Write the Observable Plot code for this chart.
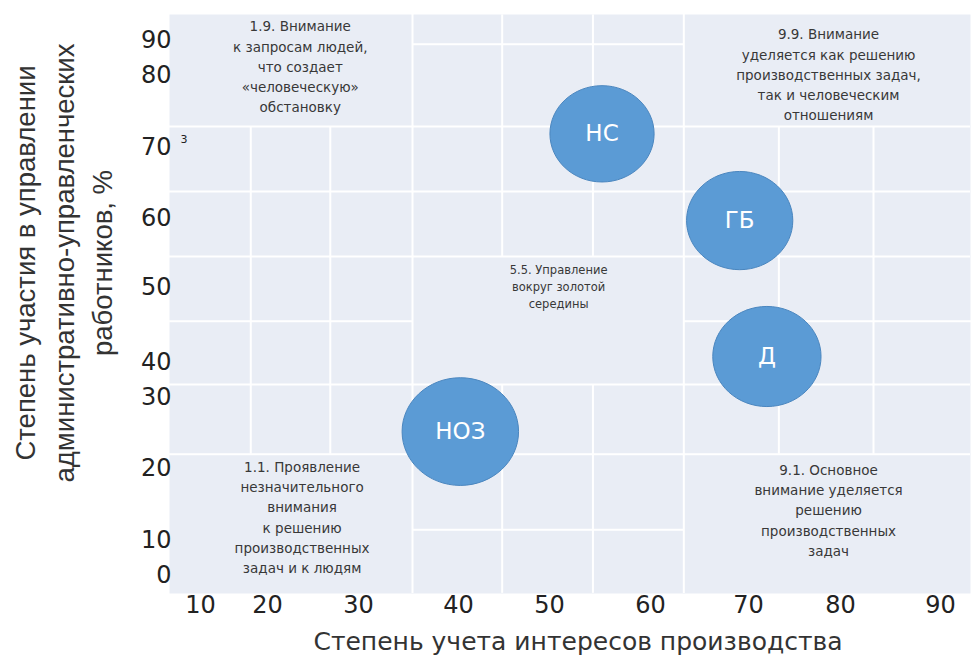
<!DOCTYPE html>
<html>
<head>
<meta charset="utf-8">
<script src="https://cdn.jsdelivr.net/npm/d3@7"></script>
<script src="https://cdn.jsdelivr.net/npm/@observablehq/plot@0.6"></script>
<style>
  body { margin: 0; background: #fff; }
  #chart svg { display: block; }
</style>
</head>
<body>
<div id="chart"></div>
<script>
// ---- Data ----
const xTicks = [10, 20, 30, 40, 50, 60, 70, 80, 90];
const yTicks = [0, 10, 20, 30, 40, 50, 60, 70, 80, 90];

const styleNames = ["НС", "ГБ", "Д", "НОЗ"];
const interestProduction = [55.2, 69.1, 72.0, 40.2];   // x
const participation = [71.9, 59.7, 40.8, 25.2];        // y
const bubbleWeight = [1.0, 1.04, 1.08, 1.25];

const zoneTexts = [
  "1.9. Внимание\nк запросам людей,\nчто создает\n«человеческую»\nобстановку",
  "9.9. Внимание\nуделяется как решению\nпроизводственных задач,\nтак и человеческим\nотношениям",
  "1.1. Проявление\nнезначительного\nвнимания\nк решению\nпроизводственных\nзадач и к людям",
  "9.1. Основное\nвнимание уделяется\nрешению\nпроизводственных\nзадач",
  "5.5. Управление\nвокруг золотой\nсередины"
];
const zoneX = [23.6, 78.7, 23.8, 78.7, 50.9];
const zoneY = [82.9, 80.6, 13.4, 14.4, 50.3];

// managerial-grid background lines (data units)
const blockX = [35.4, 63.4];                   // full-height
const outerSubX = [17.5, 26.9, 73.3, 83.3];    // outer columns, middle rows
const outerSubYSpan = [22.0, 72.9];
const middleSubX = [44.8, 54.3];               // middle column, top & bottom parts
const middleSubYSpans = [[54.5, 97.3], [-5.1, 33.7]];
const fullY = [72.9, 63.8, 54.5, 33.7, 22.0];  // full-width
const outerY = [45.5];                         // outer columns only
const outerXSpans = [[5.4, 35.4], [63.4, 93.2]];
const middleY = [88.9, 11.5];                  // middle column only
const middleXSpan = [35.4, 63.4];

const footnote = [{tick: 70, text: "3"}];

const xTitle = "Степень учета интересов производства";
const yTitle = "Степень участия в управлении\nадминистративно-управленческих\nработников, %";

// ---- Table ----
const bubbles = styleNames.map((name, i) => ({
  name, x: interestProduction[i], y: participation[i], w: bubbleWeight[i]
}));
const zones = zoneTexts.map((t, i) => ({text: t, x: zoneX[i], y: zoneY[i], small: i === 4}));

const vSegs = [
  ...outerSubX.map(x => ({x, y1: outerSubYSpan[0], y2: outerSubYSpan[1]})),
  ...middleSubX.flatMap(x => middleSubYSpans.map(([y1, y2]) => ({x, y1, y2})))
];
const hSegs = [
  ...outerY.flatMap(y => outerXSpans.map(([x1, x2]) => ({y, x1, x2}))),
  ...middleY.map(y => ({y, x1: middleXSpan[0], x2: middleXSpan[1]}))
];

// The reference axes are unevenly spaced: piecewise-linear warps of the tick values
const W = 973, H = 655;
const mL = 169, mR = 3, mT = 14, mB = 62;
const warpX = d3.scaleLinear().domain(xTicks).range([200, 267, 358, 458, 549, 650, 748, 840, 940]);
const warpY = d3.scaleLinear().domain(yTicks).range([575, 540, 468, 397, 362, 287, 218, 147, 75, 40]);

// ellipse-shaped symbol
const ellipse = {
  draw(ctx, size) {
    const r = Math.sqrt(size / Math.PI);
    const a = r * 1.04, b = r / 1.04, k = 0.5523;
    ctx.moveTo(a, 0);
    ctx.bezierCurveTo(a, k * b, k * a, b, 0, b);
    ctx.bezierCurveTo(-k * a, b, -a, k * b, -a, 0);
    ctx.bezierCurveTo(-a, -k * b, -k * a, -b, 0, -b);
    ctx.bezierCurveTo(k * a, -b, a, -k * b, a, 0);
    ctx.closePath();
  }
};

const gridColor = "#ffffff";

const chart = Plot.plot({
  width: W,
  height: H,
  marginLeft: mL,
  marginRight: mR,
  marginTop: mT,
  marginBottom: mB,
  style: {fontFamily: "DejaVu Sans", background: "#fff", overflow: "visible"},
  x: {type: "linear", transform: v => warpX(v), domain: [mL, W - mR], range: [mL, W - mR]},
  y: {type: "linear", transform: v => warpY(v), domain: [mT, H - mB], range: [mT, H - mB]},
  r: {domain: [0, 1.25], range: [0, 56]},
  marks: [
    Plot.frame({fill: "#e9edf5", stroke: null}),
    Plot.ruleX(blockX, {stroke: gridColor, strokeWidth: 2}),
    Plot.ruleY(fullY, {stroke: gridColor, strokeWidth: 2}),
    Plot.ruleX(vSegs, {x: "x", y1: "y1", y2: "y2", stroke: gridColor, strokeWidth: 2}),
    Plot.ruleY(hSegs, {y: "y", x1: "x1", x2: "x2", stroke: gridColor, strokeWidth: 2}),

    Plot.text(zones.filter(d => !d.small), {
      x: "x", y: "y", text: "text", fontSize: 13.5, lineHeight: 1.5,
      lineAnchor: "middle", fill: "#383838"
    }),
    Plot.text(zones.filter(d => d.small), {
      x: "x", y: "y", text: "text", fontSize: 11.5, lineHeight: 1.5,
      lineAnchor: "middle", fill: "#383838"
    }),

    Plot.dot(bubbles, {
      x: "x", y: "y", r: "w", symbol: ellipse,
      fill: "#5b9bd5", stroke: "#4a86bf", strokeWidth: 1, fillOpacity: 1
    }),
    Plot.text(bubbles, {
      x: "x", y: "y", text: "name", fill: "#ffffff", fontSize: 23
    }),

    Plot.axisX(xTicks, {
      tickSize: 0, tickPadding: 2, fontSize: 24, label: null, fill: "#222",
      tickFormat: d => String(d)
    }),
    Plot.axisY(yTicks, {
      tickSize: 0, tickPadding: -2, fontSize: 24, label: null, fill: "#222",
      tickFormat: d => String(d)
    }),
    Plot.text(footnote, {
      y: "tick", text: "text", frameAnchor: "left", dx: 11, dy: -8,
      fontSize: 11, fill: "#222"
    }),

    Plot.text([xTitle], {
      text: d => d, frameAnchor: "bottom", dx: 8, dy: 56,
      fontSize: 25, fill: "#333"
    }),
    Plot.text([yTitle], {
      text: d => d, frameAnchor: "left", rotate: -90, dx: -108, dy: -41,
      textAnchor: "middle", fontSize: 27.5, lineHeight: 1.4, lineAnchor: "middle",
      fontFamily: "Liberation Sans", fill: "#333"
    })
  ]
});

document.getElementById("chart").appendChild(chart);
</script>
</body>
</html>
